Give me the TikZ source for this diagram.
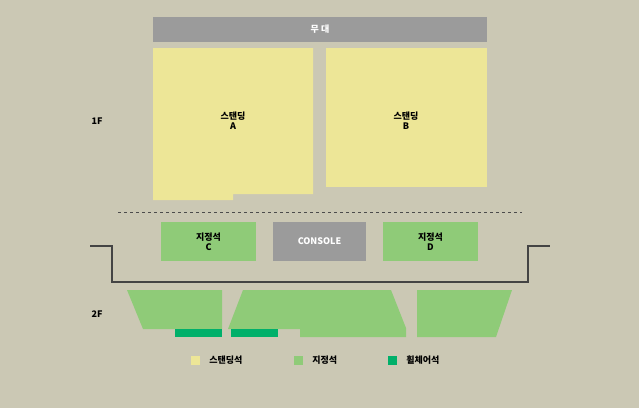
\documentclass[tikz,border=0pt]{standalone}
\usepackage{fontspec}
\setmainfont{Noto Sans CJK KR}
\usetikzlibrary{positioning}
\definecolor{bgc}{HTML}{CBC8B4}
\definecolor{standc}{HTML}{EDE697}
\definecolor{seatc}{HTML}{8FCB78}
\definecolor{wheelc}{HTML}{00B06A}
\definecolor{greyc}{HTML}{9B9B9B}
\definecolor{wallc}{HTML}{444444}

\begin{document}
\begin{tikzpicture}[x=1pt,y=-1pt,font=\bfseries\fontsize{9}{10}\selectfont]
    \tikzstyle{lbl} = [align=center, text=black, inner sep=0pt]
    \tikzstyle{seat} = [fill=seatc]
    \tikzstyle{wheel} = [fill=wheelc]
    \tikzstyle{key} = [minimum size=9pt, inner sep=0pt]
    \fill[bgc] (0,0) rectangle (639,408);
    \useasboundingbox (0,0) rectangle (639,408);
    % stage and standing
    \fill[greyc] (153,17) rectangle (487,42);
    \node (stage) [lbl, text=white] at (320,29.5) {무 대};
    \fill[standc] (153,48) -- (313,48) -- (313,194) -- (233,194) -- (233,200) -- (153,200) -- cycle;
    \fill[standc] (326,48) rectangle (487,187);
    \node (standA) [lbl] at (233,121) {스탠딩\\A};
    \node (standB) [lbl] at (406,121) {스탠딩\\B};
    \node (f1) [lbl] at (97,121) {1F};
    \draw[black!70, dashed, dash pattern=on 3pt off 3pt] (118,212) -- (522,212);
    % floor seats
    \node (C) [seat, lbl, minimum width=95pt, minimum height=39pt] at (208.5,241.5) {지정석\\C};
    \node (console) [fill=greyc, lbl, text=white, minimum width=93pt, minimum height=39pt] at (319.5,241.5) {CONSOLE};
    \node (D) [seat, lbl, minimum width=95pt, minimum height=39pt] at (430.5,241.5) {지정석\\D};
    \draw[wallc, line width=1.3pt] (90,246) -- (112,246) -- (112,282) -- (528,282) -- (528,246) -- (550,246);
    % 2F
    \node (f2) [lbl] at (97,314) {2F};
    \fill[seat] (127,290) -- (222,290) -- (222,329) -- (143,329) -- cycle;
    \fill[seat] (243,290) -- (391,290) -- (406,328) -- (406,337) -- (300,337) -- (300,329) -- (228,329) -- cycle;
    \fill[seat] (417,290) -- (512,290) -- (496,337) -- (417,337) -- cycle;
    \fill[wheel] (175,329) rectangle (222,337);
    \fill[wheel] (231,329) rectangle (278,337);
    % legend
    \node (k1) [key, fill=standc] at (195.5,360.5) {};
    \node (t1) [lbl, right=9pt of k1] {스탠딩석};
    \node (k2) [key, fill=seatc] at (298.5,360.5) {};
    \node (t2) [lbl, right=9pt of k2] {지정석};
    \node (k3) [key, fill=wheelc] at (392.5,360.5) {};
    \node (t3) [lbl, right=9pt of k3] {휠체어석};
\end{tikzpicture}
\end{document}
